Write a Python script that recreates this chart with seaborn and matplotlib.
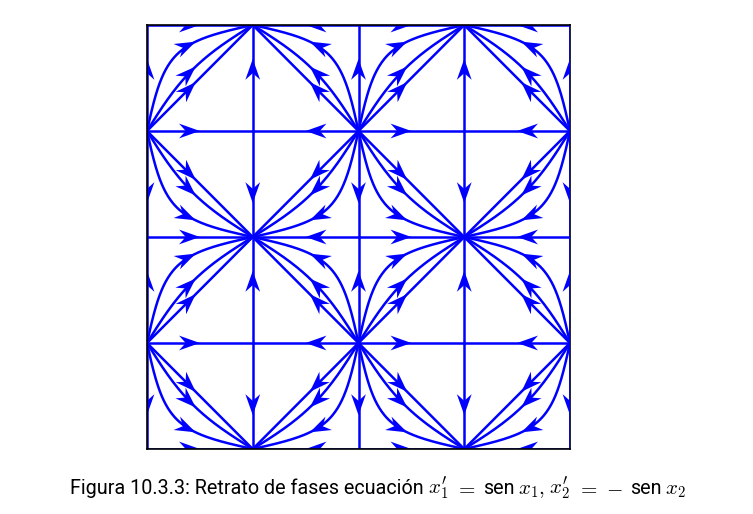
import numpy as np
import pandas as pd
import matplotlib
matplotlib.use("Agg")
import matplotlib.pyplot as plt
import seaborn as sns

PI = np.pi

# Multiplos de pi donde estan los puntos criticos (x1 = k*pi, x2 = m*pi)
k_vals = [-2, -1, 0, 1, 2]
m_vals = [-2, -1, 0, 1, 2]
# Constantes de las trayectorias entre nodos: tan(b/2) = K * tan(a/2)
K_vals = [1.0, 1.6, 4.5]
# Posicion de las flechas
a_flecha = 0.46 * PI     # curvas: distancia en x1 desde el nodo inestable
v_flecha = 0.32 * PI     # rectas verticales: punta a esta distancia del extremo par
h_flecha = 0.50 * PI     # rectas horizontales: punta en el punto medio

filas = []
flechas = []   # (x, y, dx, dy)
tray = 0

# Curvas dentro de cada celda, del nodo inestable al estable
t = np.linspace(-10, 10, 500)
for k in k_vals[:-1]:
    for m in m_vals[:-1]:
        # nodo inestable: x1 par, x2 impar ; nodo estable: x1 impar, x2 par
        U1 = (k if k % 2 == 0 else k + 1) * PI
        S1 = (k + 1 if k % 2 == 0 else k) * PI
        U2 = (m if m % 2 != 0 else m + 1) * PI
        S2 = (m + 1 if m % 2 != 0 else m) * PI
        s1 = np.sign(S1 - U1)
        s2 = np.sign(S2 - U2)
        for K in K_vals:
            a = 2 * np.arctan(np.exp(t))
            b = 2 * np.arctan(K * np.exp(t))
            a = np.concatenate([[0], a, [PI]])
            b = np.concatenate([[0], b, [PI]])
            x1 = U1 + s1 * a
            x2 = U2 + s2 * b
            for p, q in zip(x1, x2):
                filas.append((tray, p, q))
            tray += 1
            aa = a_flecha
            bb = 2 * np.arctan(K * np.tan(aa / 2))
            flechas.append((U1 + s1 * aa, U2 + s2 * bb, s1 * np.sin(aa), s2 * np.sin(bb)))

# Rectas invariantes verticales x1 = k*pi
for k in k_vals:
    for m in m_vals[:-1]:
        par = (m if m % 2 == 0 else m + 1) * PI
        impar = (m + 1 if m % 2 == 0 else m) * PI
        d = np.sign(par - impar)
        for q in (impar, par):
            filas.append((tray, k * PI, q))
        tray += 1
        flechas.append((k * PI, par - d * v_flecha, 0.0, d))

# Rectas invariantes horizontales x2 = m*pi
for m in m_vals:
    for k in k_vals[:-1]:
        par = (k if k % 2 == 0 else k + 1) * PI
        impar = (k + 1 if k % 2 == 0 else k) * PI
        d = np.sign(impar - par)
        for p in (par, impar):
            filas.append((tray, p, m * PI))
        tray += 1
        flechas.append((par + d * h_flecha, m * PI, d, 0.0))

df = pd.DataFrame(filas, columns=["tray", "x1", "x2"])

sns.set_theme(style="white")
plt.rcParams["font.family"] = ["Roboto", "DejaVu Sans"]
plt.rcParams["mathtext.fontset"] = "cm"

fig = plt.figure(figsize=(7.53, 5.14), dpi=100)
ax = fig.add_axes([147 / 753, 65 / 514, 423 / 753, 424 / 514])

sns.lineplot(data=df, x="x1", y="x2", units="tray", estimator=None, sort=False,
             color="#0000ff", linewidth=1.8, ax=ax)

# Puntas de flecha
L, W = 0.62, 0.22
for x, y, dx, dy in flechas:
    u = np.array([dx, dy]) / np.hypot(dx, dy)
    n = np.array([-u[1], u[0]])
    tip = np.array([x, y])
    pts = np.array([tip, tip - L * u + W * n, tip - 0.68 * L * u, tip - L * u - W * n])
    ax.fill(pts[:, 0], pts[:, 1], color="#0000ff", lw=0, zorder=3)

ax.set_xlim(-2 * PI, 2 * PI)
ax.set_ylim(-2 * PI, 2 * PI)
ax.set_xticks([])
ax.set_yticks([])
ax.set(xlabel="", ylabel="")
for nombre, sp in ax.spines.items():
    sp.set_color("black")
    sp.set_linewidth(1.2)
    sp.set_zorder(1.5 if nombre == "right" else 4)

# Pie de figura: texto en Roboto y matematicas en Computer Modern
f_txt, f_mat = 14.2, 15.2
piezas = [
    (0, "Figura 10.3.3: Retrato de fases ecuación", f_txt),
    (4, r"$x_1'$", f_mat),
    (7, r"$=$", f_mat),
    (7, "sen", f_txt),
    (4, r"$x_1,$", f_mat),
    (4, r"$x_2'$", f_mat),
    (7, r"$=$", f_mat),
    (8, r"$-$", f_mat),
    (7, "sen", f_txt),
    (4, r"$x_2$", f_mat),
]
base_y = 514 - 494
renderer = fig.canvas.get_renderer()
textos = []
x = 0.0
for gap, s, fs in piezas:
    x += gap
    txt = fig.text(x, base_y, s, fontsize=fs, ha="left", va="baseline",
                   color="black", transform=None)
    w = txt.get_window_extent(renderer).width
    textos.append((txt, x))
    x += w
total = x
x0 = 378 - total / 2
for txt, xi in textos:
    txt.set_x(x0 + xi)

fig.savefig("out.png", dpi=100)
